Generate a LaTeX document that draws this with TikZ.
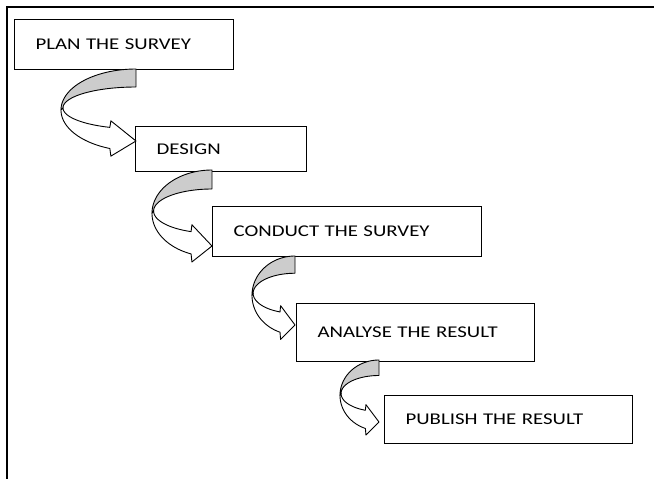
\documentclass[tikz,border=0pt]{standalone}
\usepackage{fontspec}
\setmainfont{Carlito}[FakeStretch=1.27]
\newcommand\mycurvedarrow[4]{%
\begin{scope}[shift={(#1,#2)}, x={(#3pt,0pt)}, y={(0pt,-#4pt)}]
 \filldraw[band, fill=black!20] plot[domain=-90:-180, samples=40] ({cos(\x)},{0.57+0.57*sin(\x)}) -- plot[domain=-180:-90, samples=40] ({0.973*cos(\x)},{0.54+0.29*sin(\x)}) -- cycle;
 \filldraw[band, fill=white] plot[domain=-180:-249.6, samples=40] ({cos(\x)},{0.57+0.57*sin(\x)}) -- (-0.335,1.21) -- (0,1) -- (-0.335,0.72) -- plot[domain=-249:-180, samples=40] ({0.973*cos(\x)},{0.54+0.29*sin(\x)}) -- cycle;
\end{scope}}
\begin{document}
\begin{tikzpicture}[x=1pt,y=-1pt,
  box/.style={draw, line width=1.2pt, rectangle, anchor=north west, inner xsep=21pt, inner ysep=0pt, align=left, font=\fontsize{16.4}{19}\selectfont},
  band/.style={draw, line width=0.9pt, line join=round}]
\useasboundingbox (0,0) rectangle (654,479);
\draw[line width=1.8pt] (7,479) -- (7,7) -- (654,7);
\node[box, text width=177pt, minimum height=50pt] (b1) at (14,19) {PLAN THE SURVEY};
\node[box, text width=129pt, minimum height=45pt] (b2) at (135,126) {DESIGN};
\node[box, text width=227pt, minimum height=50pt] (b3) at (212,206) {CONDUCT THE SURVEY};
\node[box, text width=196pt, minimum height=58pt] (b4) at (296,303) {ANALYSE THE RESULT};
\node[box, text width=206pt, minimum height=48pt] (b5) at (384,395) {PUBLISH THE RESULT};
\mycurvedarrow{136}{69}{75}{72}
\mycurvedarrow{212}{170}{60}{76}
\mycurvedarrow{295}{256}{43}{69}
\mycurvedarrow{379}{360}{39}{62}
\end{tikzpicture}
\end{document}
